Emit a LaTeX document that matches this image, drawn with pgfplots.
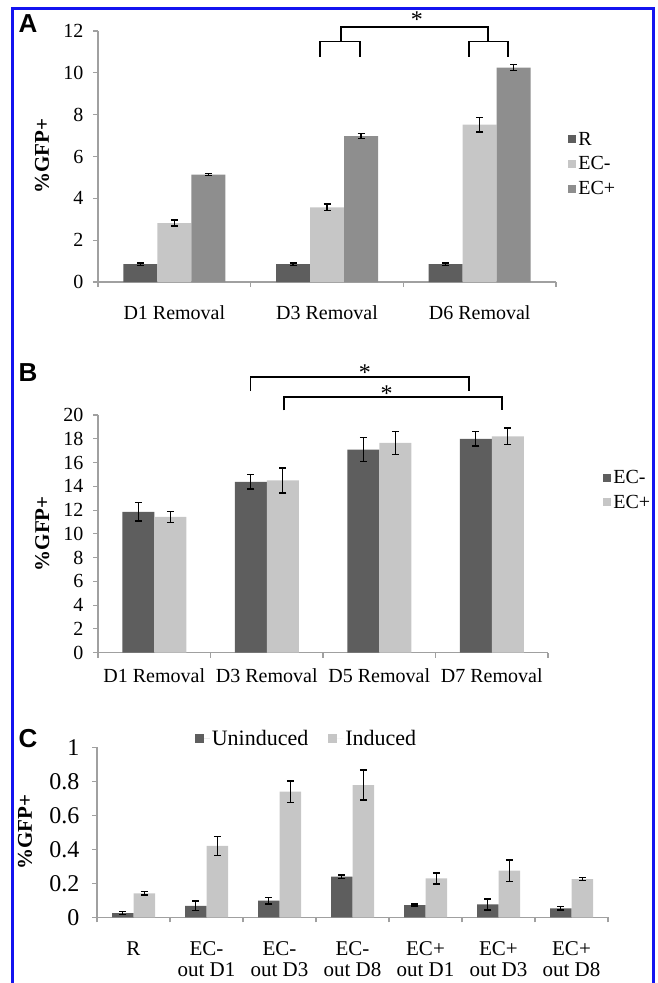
\documentclass[border=0pt]{standalone}
\usepackage{fontspec}
\setmainfont{Liberation Serif}
\setsansfont{Liberation Sans}
\usepackage{pgfplots}
\pgfplotsset{compat=1.18}
\definecolor{dk}{HTML}{5E5E5E}
\definecolor{md}{HTML}{8E8E8E}
\definecolor{lt}{HTML}{C6C6C6}
\definecolor{axc}{HTML}{A0A0A0}
\definecolor{bord}{HTML}{1414F0}
\newcommand{\tw}{\fontsize{20}{23}\selectfont}
\pgfplotsset{
  panel/.style={
    scale only axis, anchor=south west,
    axis x line=bottom, axis y line=left,
    axis line style={-, draw=axc, line width=1.3pt},
    tick align=outside, major tick length=5pt,
    every tick/.style={axc, line width=1.1pt},
    ybar=0pt, enlargelimits=false, clip=false,
    /pgf/number format/assume math mode=true,
    tick label style={font=\tw},
    yticklabel style={xshift=-6pt},
    ylabel={\bfseries\%GFP+},
    ylabel style={font=\fontsize{21}{23}\selectfont},
    legend cell align=left,
    legend style={draw=none, fill=none, font=\tw},
    legend image code/.code={\fill[##1] (0pt,-4pt) rectangle (8pt,4pt);},
    extra x tick style={major tick length=0pt},
  },
  legC/.style={legend image code/.code={\fill[##1] (0pt,-4.5pt) rectangle (9pt,4.5pt); \path (0pt,0pt) -- (15pt,0pt);}},
  errs/.style={error bars/.cd, y dir=both, y explicit,
    error bar style={black, line width=1.4pt},
    error mark options={black, rotate=90, mark size=3.5pt, line width=1.4pt}},
}
\begin{document}
\begin{tikzpicture}
\useasboundingbox (0,0) rectangle (657pt,-983pt);
\draw[bord, line width=2.5pt] (12.7pt,-995pt) -- (12.7pt,-8.7pt) -- (653.7pt,-8.7pt) -- (653.7pt,-995pt);
\node[font=\sffamily\bfseries\fontsize{26}{28}\selectfont] at (28pt,-24pt) {A};
\node[font=\sffamily\bfseries\fontsize{26}{28}\selectfont] at (28pt,-373pt) {B};
\node[font=\sffamily\bfseries\fontsize{26}{28}\selectfont] at (28pt,-739pt) {C};

% ---------------- Panel A
\begin{axis}[panel, at={(98pt,-282pt)}, width=458pt, height=251pt,
  xmin=-0.5, xmax=2.5, ymin=0, ymax=12, ytick={0,2,...,12},
  bar width=34pt,
  xtick={-0.5,0.5,1.5,2.5}, xticklabels={},
  extra x ticks={0,1,2}, extra x tick labels={D1 Removal,D3 Removal,D6 Removal},
  xticklabel style={yshift=-20pt},
  ylabel style={at={(axis description cs:-0.122,0.5)}, anchor=center},
  legend style={at={(axis description cs:1.02,0.614)}, anchor=north west, row sep=6pt},
]
\addplot[fill=dk, draw=none, errs] coordinates {(0,0.85) +- (0,0.05) (1,0.85) +- (0,0.05) (2,0.85) +- (0,0.05)};
\addplot[fill=lt, draw=none, errs] coordinates {(0,2.82) +- (0,0.15) (1,3.57) +- (0,0.15) (2,7.52) +- (0,0.35)};
\addplot[fill=md, draw=none, errs] coordinates {(0,5.13) +- (0,0.05) (1,6.97) +- (0,0.12) (2,10.25) +- (0,0.15)};
\legend{R,EC-,EC+}
\draw[line width=1.6pt] (axis cs:0.954,10.77) |- (axis cs:1.216,11.5) -- (axis cs:1.216,10.77);
\draw[line width=1.6pt] (axis cs:1.93,10.77) |- (axis cs:2.185,11.5) -- (axis cs:2.185,10.77);
\draw[line width=1.6pt] (axis cs:1.091,11.5) |- (axis cs:2.054,12.2) -- (axis cs:2.054,11.5);
\node[font=\fontsize{24}{26}\selectfont] at (axis cs:1.589,12.55) {*};
\end{axis}

% ---------------- Panel B
\begin{axis}[panel, at={(98pt,-652.7pt)}, width=450pt, height=237.7pt,
  xmin=-0.5, xmax=3.5, ymin=0, ymax=20, ytick={0,2,...,20},
  bar width=32pt,
  xtick={-0.5,0.5,1.5,2.5,3.5}, xticklabels={},
  extra x ticks={0,1,2,3}, extra x tick labels={D1 Removal,D3 Removal,D5 Removal,D7 Removal},
  xticklabel style={yshift=-12pt},
  ylabel style={at={(axis description cs:-0.124,0.5)}, anchor=center},
  legend style={at={(axis description cs:1.116,0.785)}, anchor=north west, row sep=6pt},
]
\addplot[fill=dk, draw=none, errs] coordinates {(0,11.85) +- (0,0.78) (1,14.37) +- (0,0.6) (2,17.09) +- (0,1.0) (3,18.0) +- (0,0.6)};
\addplot[fill=lt, draw=none, errs] coordinates {(0,11.43) +- (0,0.45) (1,14.5) +- (0,1.05) (2,17.65) +- (0,0.95) (3,18.2) +- (0,0.7)};
\legend{EC-,EC+}
\draw[line width=1.6pt] (axis cs:0.857,22.0) |- (axis cs:2.798,23.2) -- (axis cs:2.798,22.0);
\draw[line width=1.6pt] (axis cs:1.153,20.4) |- (axis cs:3.091,21.5) -- (axis cs:3.091,20.4);
\node[font=\fontsize{24}{26}\selectfont] at (axis cs:1.873,23.6) {*};
\node[font=\fontsize{24}{26}\selectfont] at (axis cs:2.066,21.8) {*};
\end{axis}

% ---------------- Panel C
\begin{axis}[panel, legC, at={(97pt,-917.3pt)}, width=511pt, height=170pt,
  xmin=-0.5, xmax=6.5, ymin=0, ymax=1, ytick={0,0.2,0.4,0.6,0.8,1},
  yticklabels={0,0.2,0.4,0.6,0.8,1},
  yticklabel style={font=\fontsize{24}{26}\selectfont, xshift=-3pt},
  bar width=21.5pt,
  xtick={-0.5,0.5,...,6.5}, xticklabels={},
  extra x ticks={0,1,2,3,4,5,6},
  extra x tick labels={R,EC-\\out D1,EC-\\out D3,EC-\\out D8,EC+\\out D1,EC+\\out D3,EC+\\out D8},
  xticklabel style={align=center, yshift=-21pt, font=\fontsize{21}{21}\selectfont},
  ylabel style={at={(axis description cs:-0.141,0.5)}, anchor=center},
  legend columns=2,
  legend style={at={(axis description cs:0.41,1.049)}, anchor=center, /tikz/every even column/.append style={column sep=18pt}, font=\fontsize{22}{24}\selectfont},
]
\addplot[fill=dk, draw=none, errs] coordinates {(0,0.025) +- (0,0.01) (1,0.068) +- (0,0.027) (2,0.098) +- (0,0.02) (3,0.239) +- (0,0.01) (4,0.072) +- (0,0.006) (5,0.076) +- (0,0.032) (6,0.053) +- (0,0.01)};
\addplot[fill=lt, draw=none, errs] coordinates {(0,0.141) +- (0,0.01) (1,0.42) +- (0,0.057) (2,0.739) +- (0,0.062) (3,0.778) +- (0,0.088) (4,0.229) +- (0,0.032) (5,0.274) +- (0,0.064) (6,0.225) +- (0,0.008)};
\legend{Uninduced,Induced}
\end{axis}
\end{tikzpicture}
\end{document}
